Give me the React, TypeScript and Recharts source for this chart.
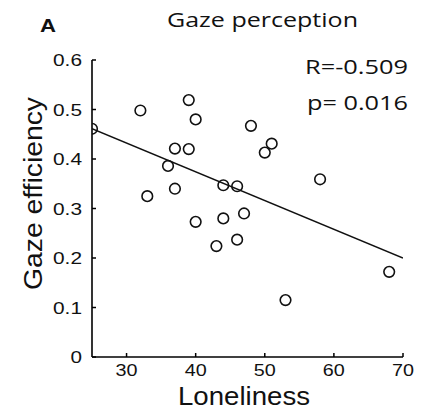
import React from 'react';
import { ScatterChart, Scatter, XAxis, YAxis } from 'recharts';

// loneliness score vs gaze efficiency, one entry per participant
const loneliness = [25, 32, 33, 36, 37, 37, 39, 39, 40, 40, 43, 44, 44, 46, 46, 47, 48, 50, 51, 53, 58, 68];
const gazeEfficiency = [0.461, 0.498, 0.325, 0.386, 0.421, 0.34, 0.519, 0.42, 0.48, 0.273, 0.224, 0.347, 0.28, 0.345, 0.237, 0.29, 0.467, 0.413, 0.431, 0.115, 0.359, 0.172];

const fitX = [25, 70];
const fitY = [0.461, 0.2];

const xTicks = [30, 40, 50, 60, 70];
const yTicks = [0, 0.1, 0.2, 0.3, 0.4, 0.5, 0.6];

const points = loneliness.map((x, i) => ({ x, y: gazeEfficiency[i] }));
const fitLine = fitX.map((x, i) => ({ x, y: fitY[i] }));

const FONT = '"Liberation Sans", Arial, sans-serif';
const TITLE_FONT = '"Open Sans", "Noto Sans", sans-serif';

const XTick = (props: any) => {
  const { x, y, payload } = props;
  return (
    <g>
      <line x1={x} x2={x} y1={y - 7} y2={y - 11} stroke="#000" strokeWidth={1.5} />
      <text
        x={x}
        y={y}
        dy="0.71em"
        textAnchor="middle"
        fontSize={17}
        fontFamily={FONT}
        fill="#111"
        textLength={22}
        lengthAdjust="spacingAndGlyphs"
      >
        {payload.value}
      </text>
    </g>
  );
};

const YTick = (props: any) => {
  const { x, y, payload } = props;
  const v: number = payload.value;
  const label = v === 0 ? '0' : v.toFixed(1);
  return (
    <g>
      <line x1={x + 10} x2={x + 14} y1={y} y2={y} stroke="#000" strokeWidth={1.5} />
      <text
        x={x}
        y={y}
        dy="0.355em"
        textAnchor="end"
        fontSize={17}
        fontFamily={FONT}
        fill="#111"
        textLength={v === 0 ? 11.5 : 29}
        lengthAdjust="spacingAndGlyphs"
      >
        {label}
      </text>
    </g>
  );
};

const Ring = (props: any) => {
  const { cx, cy } = props;
  return <circle cx={cx} cy={cy} r={5.3} fill="none" stroke="#111" strokeWidth={1.6} />;
};

export default function App() {
  return (
    <div style={{ position: 'absolute', left: 0, top: 0, width: 431, height: 412, background: '#fff' }}>
      <ScatterChart width={431} height={412} margin={{ top: 60, right: 28, bottom: 0, left: 0 }}>
        <XAxis
          type="number"
          dataKey="x"
          domain={[25, 70]}
          ticks={xTicks}
          allowDataOverflow
          height={55}
          stroke="#000"
          strokeWidth={1.6}
          tickSize={0}
          tickMargin={7}
          tick={<XTick />}
        />
        <YAxis
          type="number"
          dataKey="y"
          domain={[0, 0.6]}
          ticks={yTicks}
          width={92}
          stroke="#000"
          strokeWidth={1.6}
          tickSize={0}
          tickMargin={10}
          tick={<YTick />}
        />
        <Scatter
          data={fitLine}
          line={{ stroke: '#111', strokeWidth: 1.5 }}
          shape={() => <g />}
          isAnimationActive={false}
        />
        <Scatter data={points} shape={<Ring />} isAnimationActive={false} />
        <text x={40} y={32} fontSize={18} fontWeight="bold" fontFamily={FONT} fill="#111" textLength={16} lengthAdjust="spacingAndGlyphs">
          A
        </text>
        <text x={167} y={27} fontSize={20} fontFamily={TITLE_FONT} fill="#111" textLength={191} lengthAdjust="spacingAndGlyphs">
          Gaze perception
        </text>
        <text x={305} y={74} fontSize={20} fontFamily={TITLE_FONT} fill="#111" textLength={103} lengthAdjust="spacingAndGlyphs">
          R=-0.509
        </text>
        <text x={307} y={110} fontSize={20} fontFamily={TITLE_FONT} fill="#111" textLength={101} lengthAdjust="spacingAndGlyphs">
          p= 0.016
        </text>
        <text x={178} y={405} fontSize={25} fontFamily={FONT} fill="#111" textLength={132} lengthAdjust="spacingAndGlyphs">
          Loneliness
        </text>
        <text
          x={0}
          y={0}
          transform="translate(42, 290) rotate(-90)"
          fontSize={25}
          fontFamily={FONT}
          fill="#111"
          textLength={193}
          lengthAdjust="spacingAndGlyphs"
        >
          Gaze efficiency
        </text>
      </ScatterChart>
    </div>
  );
}
